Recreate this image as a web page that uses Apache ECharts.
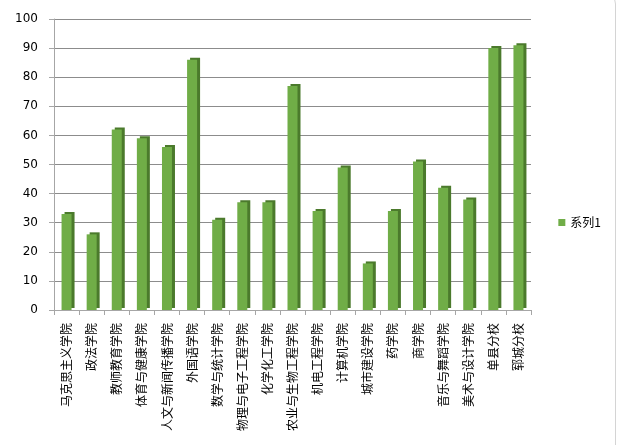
<!DOCTYPE html>
<html><head><meta charset="utf-8">
<script src="https://cdn.jsdelivr.net/npm/echarts@6/dist/echarts.min.js"></script>
<style>html,body{margin:0;padding:0;background:#fff;}#c{width:620px;height:445px;}
#b{position:absolute;left:-8px;top:-8px;width:622px;height:470px;border:1px solid #d4d4d4;border-radius:12px;pointer-events:none;}</style>
</head><body><div id="c"></div><div id="b"></div>
<script>
const categories = ['马克思主义学院','政法学院','教师教育学院','体育与健康学院','人文与新闻传播学院','外国语学院','数学与统计学院','物理与电子工程学院','化学化工学院','农业与生物工程学院','机电工程学院','计算机学院','城市建设学院','药学院','商学院','音乐与舞蹈学院','美术与设计学院','单县分校','郓城分校'];
const values = [33,26,62,59,56,86,31,37,37,77,34,49,16,34,51,42,38,90,91];
const seriesName = '系列1';
const chart = echarts.init(document.getElementById('c'));
chart.setOption({
  animation:false,
  legend:{data:[seriesName],right:14,top:'middle',orient:'vertical',itemWidth:7,itemHeight:7,icon:'rect',
    textStyle:{fontFamily:'Noto Sans CJK SC',fontSize:12,color:'#000'}},
  grid:{left:54,right:89,top:19,bottom:135},
  xAxis:{type:'category',data:categories,
    axisLine:{lineStyle:{color:'#a6a6a6'}},
    axisTick:{show:true,length:5,lineStyle:{color:'#a6a6a6'}},
    axisLabel:{rotate:90,interval:0,margin:13,fontFamily:'Noto Sans CJK SC',fontSize:12,color:'#000'}},
  yAxis:{type:'value',min:0,max:100,interval:10,
    axisLine:{show:true,lineStyle:{color:'#a6a6a6'}},
    axisTick:{show:true,length:5,lineStyle:{color:'#a6a6a6'}},
    splitLine:{lineStyle:{color:'#8c8c8c'}},
    axisLabel:{margin:16,fontFamily:'DejaVu Sans',fontSize:12,color:'#000'}},
  series:[{name:seriesName,type:'bar',data:values,barWidth:10,
    itemStyle:{color:'#70ad47',shadowColor:'#4b7a2c',shadowOffsetX:3,shadowOffsetY:-2,shadowBlur:0}}]
});
</script></body></html>
